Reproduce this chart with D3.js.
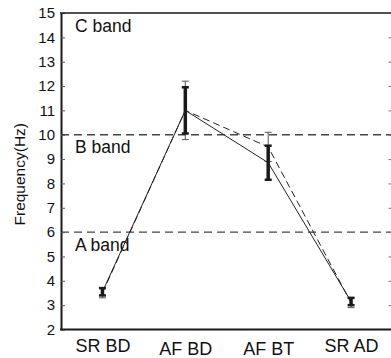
<!DOCTYPE html>
<html>
<head>
<meta charset="utf-8">
<script src="https://cdn.jsdelivr.net/npm/d3@7"></script>
<style>
  body { margin: 0; background: #fff; }
  svg { display: block; font-family: "Liberation Sans", Arial, sans-serif; }
</style>
</head>
<body>
<div id="container"></div>
<script>
/* DATA */
const categories = ["SR BD", "AF BD", "AF BT", "SR AD"];
const solidMean = [3.55, 11.0, 8.85, 3.15];
const solidErr = [0.15, 0.95, 0.7, 0.15];
const dashedMean = [3.5, 11.0, 9.5, 3.1];
const dashedErr = [0.2, 1.2, 0.6, 0.2];
const yTicks = [2, 3, 4, 5, 6, 7, 8, 9, 10, 11, 12, 13, 14, 15];
const bandNames = ["A band", "B band", "C band"];
const bandTops = [6, 10, 15];

/* LAYOUT */
const W = 391, H = 358;
const plotLeft = 61, plotRight = 392.5, plotTop = 13, plotBottom = 329.5;

const svg = d3.select("#container").append("svg")
  .attr("width", W)
  .attr("height", H);

/* SCALES */
const x = d3.scalePoint()
  .domain(categories)
  .range([plotLeft, plotRight])
  .padding(0.5);

const y = d3.scaleLinear()
  .domain([2, 15])
  .range([plotBottom, plotTop]);

// dashed band boundaries (all but the top one)
svg.selectAll("line.band")
  .data(bandTops.filter(v => v < 15))
  .join("line")
  .attr("class", "band")
  .attr("x1", plotLeft).attr("x2", plotRight)
  .attr("y1", d => y(d)).attr("y2", d => y(d))
  .attr("stroke", "#444")
  .attr("stroke-width", 1.3)
  .attr("stroke-dasharray", "8,5");

// band labels
svg.selectAll("text.bandlabel")
  .data(bandNames)
  .join("text")
  .attr("class", "bandlabel")
  .attr("x", plotLeft + 14)
  .attr("y", (d, i) => y(bandTops[i] - 0.77))
  .attr("font-size", 17.5)
  .attr("fill", "#111")
  .text(d => d);

/* ERROR BARS */
const rows = categories.map((c, i) => ({
  c, sm: solidMean[i], se: solidErr[i], dm: dashedMean[i], de: dashedErr[i]
}));

function errorBars(key, errKey, color, bw, cw, capw) {
  const g = svg.append("g");
  rows.forEach(d => {
    const cx = x(d.c);
    const lo = y(d[key] - d[errKey]), hi = y(d[key] + d[errKey]);
    g.append("line").attr("x1", cx).attr("x2", cx).attr("y1", lo).attr("y2", hi)
      .attr("stroke", color).attr("stroke-width", bw);
    [lo, hi].forEach(v => {
      g.append("line").attr("x1", cx - capw / 2).attr("x2", cx + capw / 2)
        .attr("y1", v).attr("y2", v)
        .attr("stroke", color).attr("stroke-width", cw);
    });
  });
}

// thin bars belong to the dashed series
errorBars("dm", "de", "#555", 1, 1, 7);

/* LINES */
const solidLine = d3.line().x(d => x(d.c)).y(d => y(d.sm));
const dashedLine = d3.line().x(d => x(d.c)).y(d => y(d.dm));

svg.append("path")
  .datum(rows)
  .attr("d", dashedLine)
  .attr("fill", "none")
  .attr("stroke", "#222")
  .attr("stroke-width", 1)
  .attr("stroke-dasharray", "7,4");

svg.append("path")
  .datum(rows)
  .attr("d", solidLine)
  .attr("fill", "none")
  .attr("stroke", "#222")
  .attr("stroke-width", 1);

errorBars("sm", "se", "#1a1a1a", 3.5, 2.5, 7);

/* AXES */
const yAxis = svg.append("g")
  .attr("transform", `translate(${plotLeft},0)`)
  .call(d3.axisLeft(y).tickValues(yTicks).tickSizeInner(-4).tickSizeOuter(0).tickPadding(6));
yAxis.select(".domain").attr("stroke", "#1a1a1a").attr("stroke-width", 2);
yAxis.selectAll(".tick line").attr("stroke", "#555");
yAxis.selectAll("text").attr("font-size", 15).attr("fill", "#111")
  .attr("font-family", "Liberation Sans, Arial, sans-serif");

const yAxisR = svg.append("g")
  .attr("transform", `translate(${plotRight},0)`)
  .call(d3.axisRight(y).tickValues(yTicks.filter(v => v > 2 && v < 15)).tickSizeInner(-4).tickSizeOuter(0).tickFormat(""));
yAxisR.select(".domain").remove();
yAxisR.selectAll(".tick line").attr("stroke", "#777");

const xAxis = svg.append("g")
  .attr("transform", `translate(0,${plotBottom})`)
  .call(d3.axisBottom(x).tickSize(0).tickPadding(13));
xAxis.select(".domain").remove();
xAxis.selectAll("text").attr("font-size", 18).attr("fill", "#111")
  .attr("font-family", "Liberation Sans, Arial, sans-serif")
  .attr("transform", d => d.startsWith("SR") ? "translate(0,-3.5)" : null);

// frame: bottom and top lines
svg.append("line")
  .attr("x1", plotLeft - 1).attr("x2", W)
  .attr("y1", plotBottom).attr("y2", plotBottom)
  .attr("stroke", "#1a1a1a").attr("stroke-width", 2);
svg.append("line")
  .attr("x1", plotLeft - 1).attr("x2", W)
  .attr("y1", plotTop).attr("y2", plotTop)
  .attr("stroke", "#1a1a1a").attr("stroke-width", 1.5);

// y-axis title
svg.append("text")
  .attr("transform", `translate(24.5,${(plotTop + plotBottom) / 2 + 3}) rotate(-90)`)
  .attr("text-anchor", "middle")
  .attr("font-size", 15.5)
  .attr("fill", "#111")
  .text("Frequency(Hz)");
</script>
</body>
</html>
